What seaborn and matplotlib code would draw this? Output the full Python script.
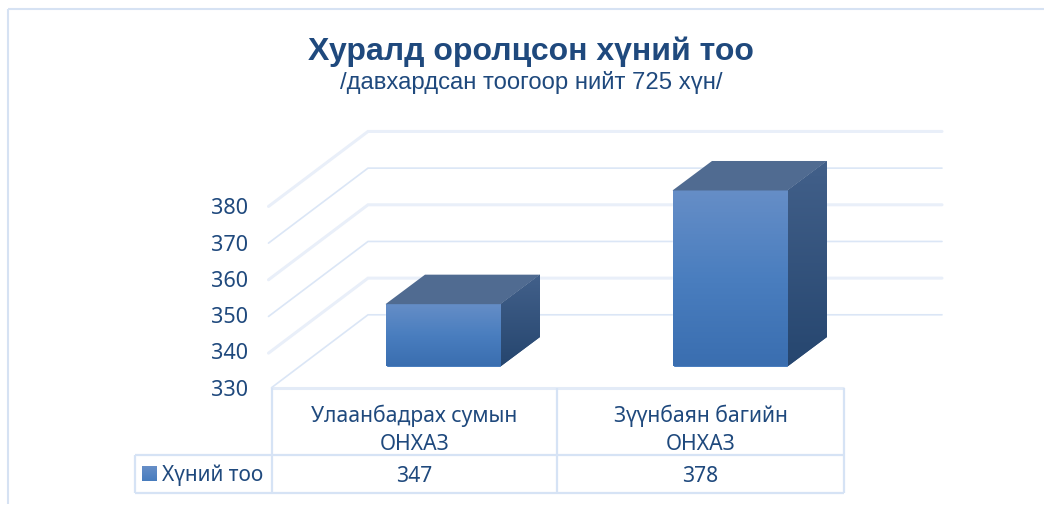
import matplotlib
matplotlib.use("Agg")
import matplotlib.pyplot as plt
from matplotlib.colors import LinearSegmentedColormap
from matplotlib.patches import Polygon
import numpy as np
import seaborn as sns

# Datos de la grafica
categorias = ["Улаанбадрах сумын\nОНХАЗ", "Зүүнбаян багийн\nОНХАЗ"]
valores = [347, 378]
serie = "Хүний тоо"
ticks_y = [330, 340, 350, 360, 370, 380]
titulo = "Хуралд оролцсон хүний тоо"
subtitulo = "/давхардсан тоогоор нийт 725 хүн/"

W, H = 1044, 506
AZUL = "#1f497d"
PX_CAT = 287.0   # px por categoria
PX_VAL = 3.667   # px por unidad del eje y
BASE = ticks_y[0]
PISO_Y = 367.5   # pixel donde apoyan las barras

sns.set_theme(style="white")
plt.rcParams["font.family"] = ["Noto Sans", "DejaVu Sans"]

frente = LinearSegmentedColormap.from_list("frente", ["#3a6eb0", "#4a7ebf", "#668ec7"])
lado = LinearSegmentedColormap.from_list("lado", ["#26466f", "#42608a"])

fig = plt.figure(figsize=(W / 100, H / 100), dpi=100)


def ejes_px(x0, y0, x1, y1, **kw):
    # ejes colocados con pixeles de la imagen (y hacia abajo)
    return fig.add_axes([x0 / W, 1 - y1 / H, (x1 - x0) / W, (y1 - y0) / H], **kw)


# capa de fondo en pixeles: marco, tabla y textos
fondo = ejes_px(0, 0, W, H)
fondo.set_xlim(0, W)
fondo.set_ylim(H, 0)
fondo.axis("off")


def linea(xs, ys, lw=1.6, color="#d6e3f5"):
    fondo.plot(xs, ys, color=color, lw=lw, solid_capstyle="butt")


linea([8, 8], [505, 10], lw=1.5, color="#d6e2f3")
linea([8, 1044], [10, 10], lw=1.5, color="#d6e2f3")

# tabla de datos
linea([272, 844], [388.5, 388.5], lw=2.2, color="#e3ebf7")
linea([135, 844], [456, 456])
linea([135, 844], [493.5, 493.5])
linea([135, 135], [456, 493.5])
for x in [271.5, 557, 844]:
    linea([x, x], [388.5, 493.5])

centros_tabla = [414.5, 700.5]
for x, cat, val in zip(centros_tabla, categorias, valores):
    fondo.text(x, 430, cat, ha="center", va="center", fontsize=15.2, color=AZUL, linespacing=1.4)
    fondo.text(x, 477, str(val), ha="center", va="center", fontsize=15.2, color=AZUL)
fondo.text(162, 475, serie, ha="left", va="center", fontsize=15, color=AZUL)
fondo.imshow(np.linspace(0.45, 1, 64)[:, None], extent=(142, 157, 482, 467), origin="lower", cmap=frente, aspect="auto", vmin=0, vmax=1)
fondo.set_xlim(0, W)
fondo.set_ylim(H, 0)

fondo.text(531, 52, titulo, ha="center", va="center", fontsize=23, fontweight="bold", color=AZUL, family="Liberation Sans")
fondo.text(531, 82, subtitulo, ha="center", va="center", fontsize=17.2, color=AZUL, family="Liberation Sans")

# eje y real en el plano frontal
eje = ejes_px(272, 206.2, 300, 387.8)
eje.set_ylim(ticks_y[0], ticks_y[-1])
eje.set_xticks([])
eje.set_yticks(ticks_y)
eje.set_yticklabels(ticks_y, fontsize=15.6, color=AZUL)
eje.tick_params(axis="y", length=0, pad=17)
eje.patch.set_alpha(0)
sns.despine(ax=eje, left=True, bottom=True)

# plano de las barras
ax = ejes_px(299.5, 10, 873.5, PISO_Y)
ax.patch.set_alpha(0)
ylim_ax = (BASE, BASE + (PISO_Y - 10) / PX_VAL)


def mover(x, v, dx, dy):
    # desplaza un punto del plano de barras, dx y dy en pixeles
    return x + dx / PX_CAT, v + dy / PX_VAL


FONDO_PARED = (68.5, 51.7)
FRENTE_PARED = (-31, -23.3)
FRENTE_PISO = (-28, -21.2)
PROF_BARRA = (39.5, 29.5)

sns.barplot(x=categorias, y=valores, ax=ax, color="#4a7ebf", saturation=1, width=115 / PX_CAT, zorder=5)
ax.set_ylim(ylim_ax)
ax.set_xlim(-0.5, 1.5)
ax.set_xticks([])
ax.set_yticks([])
ax.set_xlabel("")
sns.despine(ax=ax, left=True, bottom=True)

# paredes: lineas de cuadricula
for i, v in enumerate(ticks_y):
    p0 = mover(-0.5, v, *(FRENTE_PISO if v == BASE else FRENTE_PARED))
    p1 = mover(-0.5, v, *FONDO_PARED)
    p2 = mover(1.5, v, *FONDO_PARED)
    gruesa = i % 2 == 1
    ax.plot([p0[0], p1[0], p2[0]], [p0[1], p1[1], p2[1]], clip_on=False, zorder=1,
            color="#e9eff9" if gruesa else "#dbe6f6", lw=2.2 if gruesa else 1.2, solid_joinstyle="miter")

# barras: degradado al frente y cara superior y lateral
for barra, v in zip(ax.patches, valores):
    x0, x1 = barra.get_x(), barra.get_x() + barra.get_width()
    grad = ax.imshow(np.linspace(0, 1, 128)[:, None], extent=(x0, x1, BASE, v), origin="lower",
                     cmap=frente, aspect="auto", zorder=6)
    grad.set_clip_path(barra)

    arriba = [(x0, v), (x1, v), mover(x1, v, *PROF_BARRA), mover(x0, v, *PROF_BARRA)]
    ax.add_patch(Polygon(arriba, closed=True, fc="#506b91", ec="none", zorder=6))

    costado = Polygon([(x1, BASE), mover(x1, BASE, *PROF_BARRA), mover(x1, v, *PROF_BARRA), (x1, v)],
                      closed=True, fc="#32527c", ec="none", zorder=5)
    ax.add_patch(costado)
    sx1, sv1 = mover(x1, v, *PROF_BARRA)
    grad2 = ax.imshow(np.linspace(0, 1, 128)[:, None], extent=(x1, sx1, BASE, sv1), origin="lower",
                      cmap=lado, aspect="auto", zorder=6)
    grad2.set_clip_path(costado)

ax.set_ylim(ylim_ax)
ax.set_xlim(-0.5, 1.5)

fig.savefig("out.png", dpi=100)
